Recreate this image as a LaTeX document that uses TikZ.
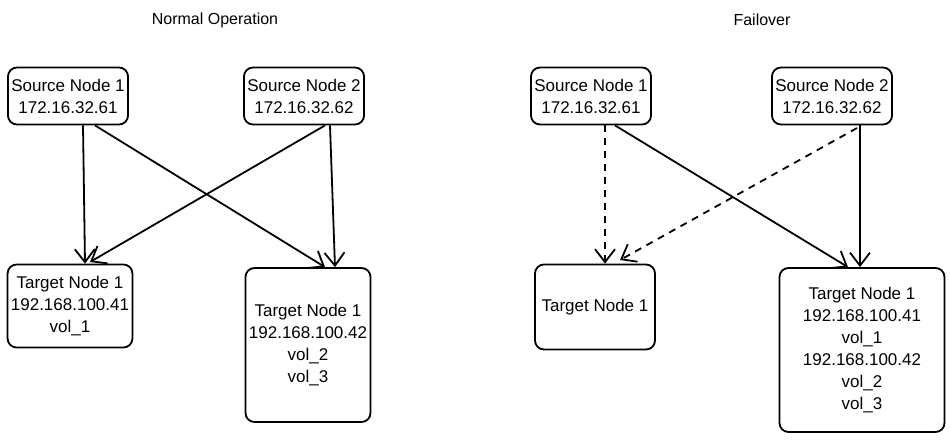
\documentclass[tikz,border=0pt]{standalone}
\usepackage{fontspec}
\setmainfont{Liberation Sans}
\usetikzlibrary{arrows.meta}
\begin{document}
\begin{tikzpicture}[x=1pt,y=-1pt,
  box/.style={draw,line width=1.8pt,rounded corners=9pt,align=center,font=\fontsize{17}{22}\selectfont},
  title/.style={font=\fontsize{16}{19}\selectfont},
  arr/.style={line width=1.8pt,-{Straight Barb[length=13pt,width=20pt]}},
  dsh/.style={arr,dash pattern=on 7pt off 6pt}]
\useasboundingbox (0,0) rectangle (950,440);
\node[title] (t1) at (215,20) {Normal Operation};
\node[title] (t2) at (762,20) {Failover};
% left
\node[box,minimum width=115,minimum height=57] (s1) at (68,96) {Source Node 1\\172.16.32.61};
\node[box,minimum width=112,minimum height=57] (s2) at (304,96) {Source Node 2\\172.16.32.62};
\node[box,minimum width=120,minimum height=83] (a1) at (70,306) {Target Node 1\\192.168.100.41\\vol\_1};
\node[box,minimum width=125,minimum height=154] (a2) at (308,345) {Target Node 1\\192.168.100.42\\vol\_2\\vol\_3};
\draw[arr] (s1.south -| 83,0) -- (a1.north -| 85,0);
\draw[arr] (s1.south -| 95,0) -- (a2.north -| 325,0);
\draw[arr] (s2.south -| 325,0) -- (90,262);
\draw[arr] (s2.south -| 330,0) -- (a2.north -| 335,0);
% right
\node[box,minimum width=117,minimum height=57] (r1) at (591,96) {Source Node 1\\172.16.32.61};
\node[box,minimum width=115,minimum height=57] (r2) at (832,96) {Source Node 2\\172.16.32.62};
\node[box,minimum width=120,minimum height=85] (b1) at (595,307) {Target Node 1};
\node[box,minimum width=165,minimum height=164] (b2) at (862,350) {Target Node 1\\192.168.100.41\\vol\_1\\192.168.100.42\\vol\_2\\vol\_3};
\draw[dsh] (r1.south -| 605,0) -- (b1.north -| 605,0);
\draw[arr] (r1.south -| 615,0) -- (b2.north -| 848,0);
\draw[dsh] (857,128) -- (620,260);
\draw[arr] (r2.south -| 860,0) -- (b2.north -| 860,0);
\end{tikzpicture}
\end{document}
